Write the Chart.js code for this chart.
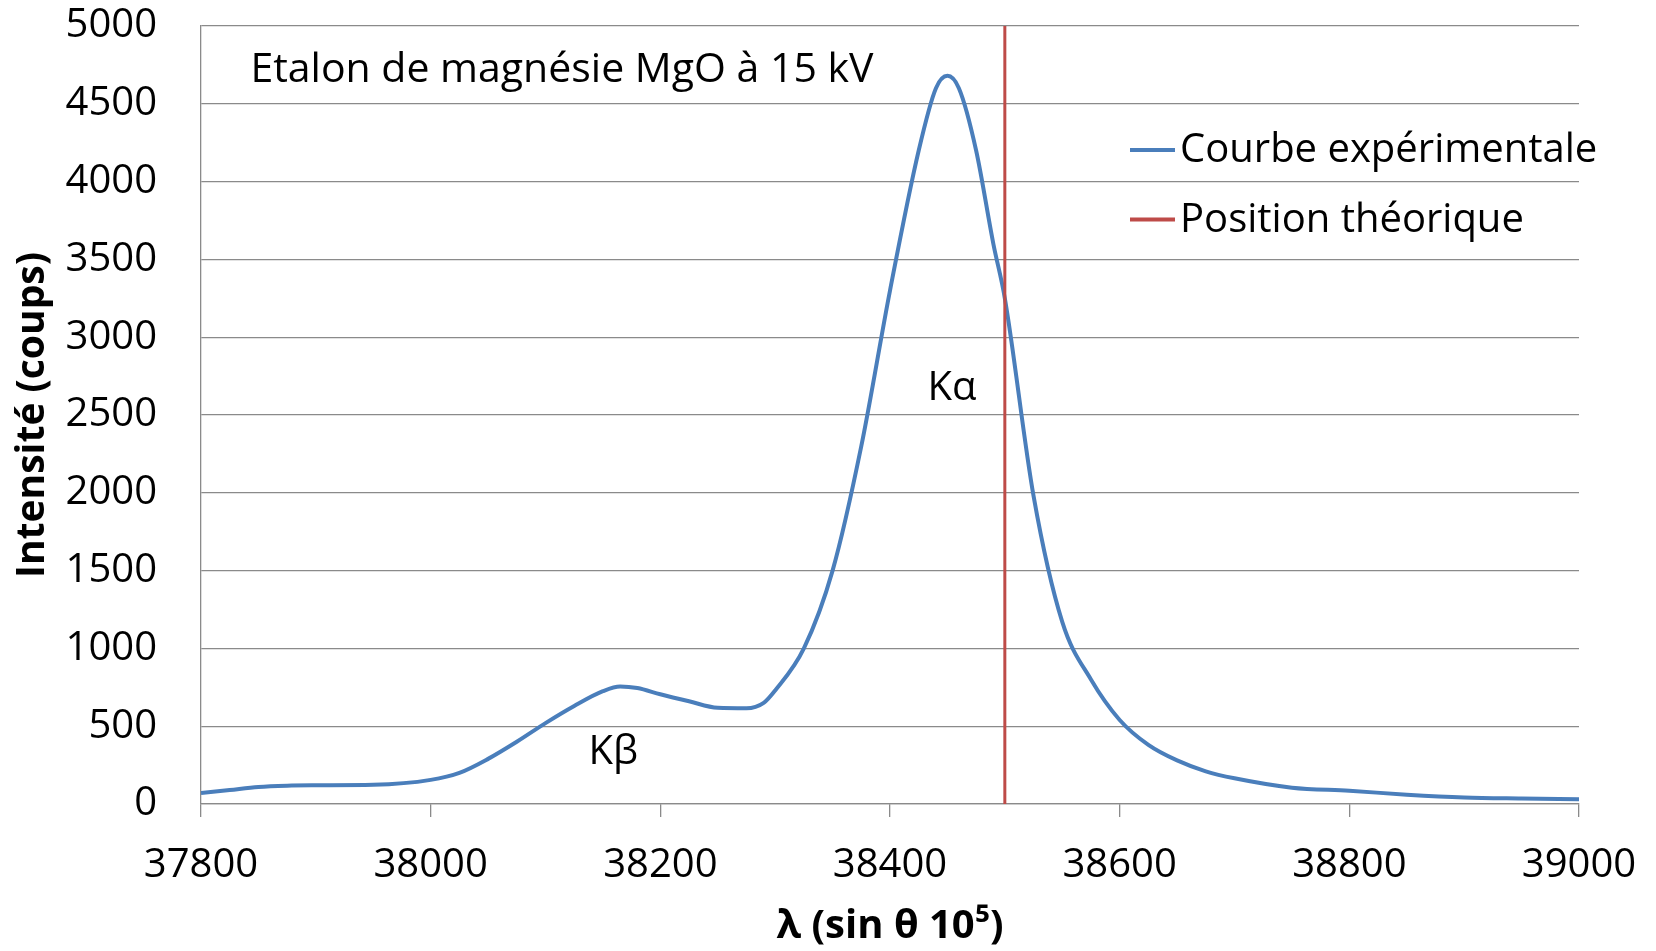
<!DOCTYPE html>
<html>
<head>
<meta charset="utf-8">
<script src="https://cdn.jsdelivr.net/npm/chart.js@4.4.1/dist/chart.umd.min.js"></script>
<style>
  html, body { margin: 0; padding: 0; background: #fff; }
  #wrap { width: 1656px; height: 951px; }
</style>
</head>
<body>
<div id="wrap"><canvas id="chart" width="1656" height="951"></canvas></div>
<script>
// wavelength (sin theta 10^5) and counts
const lambdaValues = [37800, 37825, 37850, 37875, 37900, 37950, 38000, 38025, 38050, 38075,
    38100, 38125, 38150, 38165, 38180, 38200, 38225, 38250, 38275, 38290,
    38300, 38325, 38350, 38375, 38400, 38425, 38440, 38450, 38460, 38475,
    38490, 38500, 38525, 38550, 38575, 38600, 38625, 38650, 38675, 38700,
    38750, 38800, 38850, 38900, 38950, 39000];
const intensityValues = [70, 90, 110, 118, 120, 123, 155, 200, 290, 400,
    520, 630, 725, 755, 745, 705, 660, 618, 615, 650,
    730, 1000, 1500, 2300, 3300, 4200, 4600, 4680, 4600, 4200,
    3600, 3250, 1980, 1170, 800, 540, 380, 280, 210, 165,
    105, 85, 60, 42, 35, 30];

const theoreticalLambda = 38500;
const theoreticalRange = [0, 5000];

const xTicks = [37800, 38000, 38200, 38400, 38600, 38800, 39000];
const yTicks = [0, 500, 1000, 1500, 2000, 2500, 3000, 3500, 4000, 4500, 5000];

const seriesNames = ['Courbe expérimentale', 'Position théorique'];
const chartTitle = 'Etalon de magnésie MgO à 15 kV';
const peakLabels = [
    { text: 'Kα', x: 38454, y: 2670 },
    { text: 'Kβ', x: 38159, y: 330 }
];

const BLUE = '#4a7ebb';
const RED = '#be4b48';
const GRID = '#8a8a8a';
const FONT = "'Open Sans', 'Noto Sans', sans-serif";

Chart.defaults.font.family = FONT;
Chart.defaults.color = '#000';

// title, peak labels and legend drawn on top of the chart area
const annotationsPlugin = {
    id: 'annotations',
    afterDraw(chart) {
        const ctx = chart.ctx;
        const xs = chart.scales.x, ys = chart.scales.y;
        ctx.save();
        ctx.fillStyle = '#000';
        ctx.textBaseline = 'middle';

        ctx.font = '41px ' + FONT;
        ctx.textAlign = 'left';
        ctx.fillText(chartTitle, xs.getPixelForValue(37843), ys.getPixelForValue(4712));

        ctx.font = '40px ' + FONT;
        ctx.textAlign = 'center';
        peakLabels.forEach(p => {
            ctx.fillText(p.text, xs.getPixelForValue(p.x), ys.getPixelForValue(p.y));
        });

        // legend
        ctx.textAlign = 'left';
        chart.data.datasets.forEach((ds, i) => {
            const y = 150 + i * 69.5;
            ctx.strokeStyle = ds.borderColor;
            ctx.lineWidth = 4;
            ctx.beginPath();
            ctx.moveTo(1130, y);
            ctx.lineTo(1175, y);
            ctx.stroke();
            ctx.fillText(ds.label, 1180, y + 1);
        });
        ctx.restore();
    }
};

new Chart(document.getElementById('chart'), {
    type: 'line',
    data: {
        datasets: [
            {
                label: seriesNames[0],
                data: lambdaValues.map((x, i) => ({ x: x, y: intensityValues[i] })),
                borderColor: BLUE,
                borderWidth: 4,
                pointRadius: 0,
                cubicInterpolationMode: 'monotone',
                order: 2
            },
            {
                label: seriesNames[1],
                data: theoreticalRange.map(y => ({ x: theoreticalLambda, y: y })),
                borderColor: RED,
                borderWidth: 3,
                pointRadius: 0,
                order: 1
            }
        ]
    },
    options: {
        responsive: false,
        animation: false,
        devicePixelRatio: 1,
        layout: { padding: { top: 26, right: 77, left: 0, bottom: 0 } },
        plugins: {
            legend: { display: false },
            tooltip: { enabled: false }
        },
        scales: {
            x: {
                type: 'linear',
                min: 37800,
                max: 39000,
                afterBuildTicks: s => { s.ticks = xTicks.map(v => ({ value: v })); },
                afterFit: s => { s.height = 147; s.paddingLeft = 0; s.paddingRight = 0; },
                ticks: {
                    font: { size: 40 }, padding: 25, maxRotation: 0, autoSkip: false,
                    callback: v => String(v)
                },
                grid: { drawOnChartArea: false, drawTicks: true, tickLength: 13, color: GRID, lineWidth: 1.3 },
                border: { color: GRID, width: 1.3 },
                title: {
                    display: true,
                    text: 'λ (sin θ 10⁵)',
                    font: { size: 40, weight: 'bold' },
                    padding: { top: 0, bottom: 0 }
                }
            },
            y: {
                min: 0,
                max: 5000,
                afterBuildTicks: s => { s.ticks = yTicks.map(v => ({ value: v })); },
                afterFit: s => { s.width = 201; s.paddingTop = 0; s.paddingBottom = 0; },
                ticks: { font: { size: 40 }, padding: 44, callback: v => String(v) },
                grid: { drawTicks: false, color: GRID, lineWidth: 1.3 },
                border: { color: GRID, width: 1.3 },
                title: {
                    display: true,
                    text: 'Intensité (coups)',
                    font: { size: 39, weight: 'bold' },
                    padding: { top: 9, bottom: 0 }
                }
            }
        }
    },
    plugins: [annotationsPlugin]
});
</script>
</body>
</html>
